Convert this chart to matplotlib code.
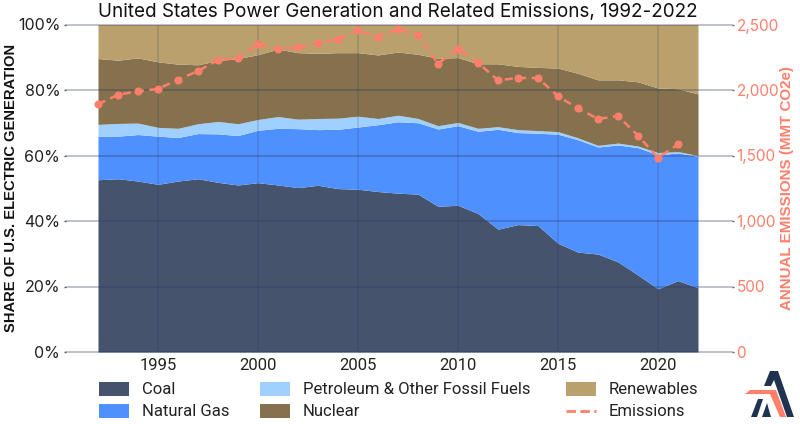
import matplotlib
matplotlib.use("Agg")
import matplotlib.pyplot as plt
from matplotlib.patches import Polygon, Rectangle
from matplotlib.lines import Line2D

years = list(range(1992, 2023))
coal = [52.6,52.9,52.2,51.2,52.2,52.9,51.8,51.0,51.7,51.0,50.2,50.9,49.9,49.7,49.0,48.5,48.2,44.5,44.8,42.3,37.5,38.9,38.6,33.2,30.5,29.9,27.5,23.5,19.3,21.8,19.6]
gas_top = [65.9,65.9,66.4,65.9,65.5,66.7,66.6,66.1,67.7,68.3,68.2,67.9,68.0,68.7,69.4,70.3,70.0,68.1,69.1,67.4,68.0,67.0,66.8,66.5,64.8,62.6,63.2,62.4,60.2,60.8,59.7]
petroleum_top = [69.5,69.8,69.9,68.6,68.3,69.7,70.4,69.7,71.0,71.9,71.1,71.3,71.4,72.0,71.3,72.3,71.3,69.1,70.1,68.3,68.8,67.9,67.6,67.3,65.4,63.1,63.8,62.9,60.9,61.2,60.0]
nuclear_top = [89.6,89.1,89.8,88.6,87.9,87.7,89.0,89.6,90.8,92.5,91.4,91.2,91.4,91.4,90.7,91.6,90.9,89.7,89.9,88.0,88.0,87.2,86.9,86.7,85.1,83.1,83.1,82.5,80.6,80.4,78.8]
renewables_top = [100.0] * 31
emission_years = list(range(1992, 2022))
emissions = [1891,1964,1990,2008,2079,2145,2229,2242,2351,2313,2326,2356,2389,2458,2402,2468,2417,2201,2315,2208,2074,2092,2092,1952,1860,1779,1802,1651,1483,1585]
x_ticks = [1995, 2000, 2005, 2010, 2015, 2020]
pct_ticks = [0, 20, 40, 60, 80, 100]
pct_labels = ["0%", "20%", "40%", "60%", "80%", "100%"]
em_ticks = [0, 500, 1000, 1500, 2000, 2500]
em_labels = ["0", "500", "1,000", "1,500", "2,000", "2,500"]

C_COAL, C_GAS, C_PET, C_NUC, C_REN, C_EM = "#45536C", "#4F90FF", "#A0D0FF", "#86714E", "#BAA06D", "#FF7F6B"
C_LOGO = "#1F3350"
FONT = ["Inter", "DejaVu Sans"]
W, H = 800, 424

fig = plt.figure(figsize=(8, 4.24), dpi=100, facecolor="white")
L, R, T, B = 66, 732, 24.5, 352
ax = fig.add_axes([L/W, 1-B/H, (R-L)/W, (B-T)/H])
ax.set_xlim(1992 + (L-98)/20, 1992 + (R-98)/20)
ax.set_ylim(0, 100)
for s in ax.spines.values():
    s.set_visible(False)

ax.fill_between(years, 0, coal, color=C_COAL, lw=0, zorder=1)
ax.fill_between(years, coal, gas_top, color=C_GAS, lw=0, zorder=1)
ax.fill_between(years, gas_top, petroleum_top, color=C_PET, lw=0, zorder=1)
ax.fill_between(years, petroleum_top, nuclear_top, color=C_NUC, lw=0, zorder=1)
ax.fill_between(years, nuclear_top, renewables_top, color=C_REN, lw=0, zorder=1)

for v in pct_ticks:
    ax.axhline(v, color="#2A3A5E", alpha=0.36, lw=1.2, zorder=2, clip_on=False)
for v in x_ticks:
    ax.axvline(v, color="#2A3A5E", alpha=0.2, lw=1.1, zorder=2)

ax.set_xticks(x_ticks)
ax.set_xticklabels([str(v) for v in x_ticks], fontsize=12, family=["Roboto"], color="#222222")
ax.set_yticks(pct_ticks)
ax.set_yticklabels(pct_labels, fontsize=11.5, family=FONT, color="#222222")
ax.tick_params(axis="x", length=0, pad=4)
ax.tick_params(axis="y", length=1.2, width=1, color="#666666", pad=3)
ax.set_ylabel("SHARE OF U.S. ELECTRIC GENERATION", fontsize=10.6, fontweight="bold",
              family=["Liberation Sans"], color="#111111")
ax.yaxis.set_label_coords((18-L)/(R-L), 0.5)

ax2 = ax.twinx()
ax2.set_ylim(0, 2500)
for s in ax2.spines.values():
    s.set_visible(False)
ax2.plot(emission_years, emissions, color=C_EM, lw=1.8, ls=(0, (3.2, 2.2)), marker="o", ms=5,
         mec=C_EM, mfc=C_EM, mew=0.8, zorder=5, clip_on=False)
ax2.set_yticks(em_ticks)
ax2.set_yticklabels(em_labels, fontsize=11, family=FONT, color=C_EM)
ax2.tick_params(axis="y", length=1.2, width=1, color="#666666", pad=2)
ax2.set_ylabel("ANNUAL EMISSIONS (MMT CO2e)", fontsize=10.9, fontweight="bold",
               family=["Liberation Sans"], color=C_EM)
ax2.yaxis.set_label_coords((780-L)/(R-L), 0.5)

fig.text(398/W, 1-12/H, "United States Power Generation and Related Emissions, 1992-2022",
         fontsize=13.6, family=FONT, color="#111111", ha="center", va="center")

def legend_patch(x, y, color, label):
    fig.add_artist(Rectangle((x/W, 1-(y+7)/H), 30/W, 14/H, transform=fig.transFigure, facecolor=color, lw=0))
    fig.text((x+43)/W, 1-y/H, label, fontsize=12, family=["Roboto"], color="#222222", va="center", ha="left")

legend_patch(99, 389, C_COAL, "Coal")
legend_patch(99, 411, C_GAS, "Natural Gas")
legend_patch(260, 389, C_PET, "Petroleum & Other Fossil Fuels")
legend_patch(260, 411, C_NUC, "Nuclear")
legend_patch(566, 389, C_REN, "Renewables")
fig.add_artist(Line2D([566/W, 596/W], [1-411/H, 1-411/H], color=C_EM, lw=2, ls=(0, (3.4, 1.6))))
fig.text(609/W, 1-411/H, "Emissions", fontsize=12, family=["Roboto"], color="#222222", va="center", ha="left")

def logo(points, color):
    fig.add_artist(Polygon([(x/W, 1-y/H) for x, y in points], closed=True, transform=fig.transFigure, facecolor=color, lw=0))

logo([(770,371),(778,371),(794,417),(787,417),(774,380),(771,386),(764,386)], C_LOGO)
logo([(750,390),(776,390),(786,417),(780,417),(770,394),(745,394)], C_EM)
logo([(758,399),(763,399),(757,417),(751,417)], C_LOGO)
logo([(767,403),(771,417),(762,417)], C_LOGO)

fig.savefig("out.png", dpi=100)
